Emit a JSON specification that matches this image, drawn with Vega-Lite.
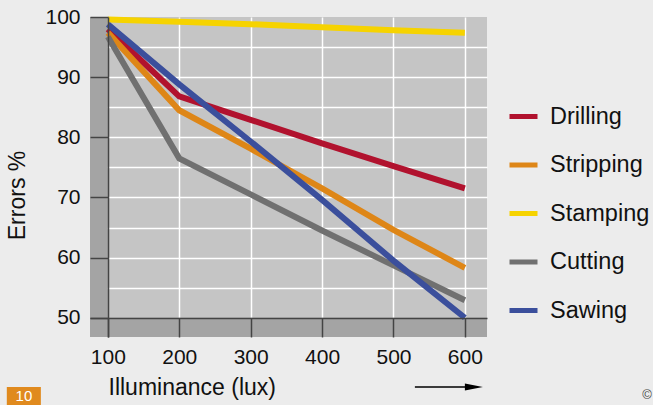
{
  "$schema": "https://vega.github.io/schema/vega-lite/v6.json",
  "autosize": {"type": "none"},
  "width": 397,
  "height": 320,
  "padding": {"left": 90, "top": 17, "right": 166, "bottom": 68},
  "background": "#ececec",
  "config": {"view": {"stroke": null, "fill": "#c5c5c5"}, "font": "Liberation Sans"},
  "data": {"values": [
    {"task": "Drilling", "lux": 100, "err": 98.0},
    {"task": "Drilling", "lux": 200, "err": 86.8},
    {"task": "Drilling", "lux": 300, "err": 82.9},
    {"task": "Drilling", "lux": 400, "err": 79.0},
    {"task": "Drilling", "lux": 500, "err": 75.2},
    {"task": "Drilling", "lux": 600, "err": 71.5},
    {"task": "Stripping", "lux": 100, "err": 97.4},
    {"task": "Stripping", "lux": 200, "err": 84.5},
    {"task": "Stripping", "lux": 300, "err": 78.1},
    {"task": "Stripping", "lux": 400, "err": 71.5},
    {"task": "Stripping", "lux": 500, "err": 64.6},
    {"task": "Stripping", "lux": 600, "err": 58.3},
    {"task": "Stamping", "lux": 100, "err": 99.6},
    {"task": "Stamping", "lux": 200, "err": 99.2},
    {"task": "Stamping", "lux": 300, "err": 98.8},
    {"task": "Stamping", "lux": 400, "err": 98.3},
    {"task": "Stamping", "lux": 500, "err": 97.8},
    {"task": "Stamping", "lux": 600, "err": 97.4},
    {"task": "Cutting", "lux": 100, "err": 96.7},
    {"task": "Cutting", "lux": 200, "err": 76.5},
    {"task": "Cutting", "lux": 300, "err": 70.5},
    {"task": "Cutting", "lux": 400, "err": 64.5},
    {"task": "Cutting", "lux": 500, "err": 58.7},
    {"task": "Cutting", "lux": 600, "err": 52.9},
    {"task": "Sawing", "lux": 100, "err": 98.8},
    {"task": "Sawing", "lux": 200, "err": 88.8},
    {"task": "Sawing", "lux": 300, "err": 79.3},
    {"task": "Sawing", "lux": 400, "err": 69.6},
    {"task": "Sawing", "lux": 500, "err": 59.5},
    {"task": "Sawing", "lux": 600, "err": 50.0}
  ]},
  "layer": [
    {
      "data": {"values": [{}]},
      "mark": {"type": "rect", "color": "#a4a4a4"},
      "encoding": {
        "x": {"datum": 75, "type": "quantitative",
              "scale": {"domain": [75, 631], "nice": false, "zero": false},
              "axis": {"orient": "bottom", "grid": true, "gridColor": "#ffffff", "gridWidth": 1.5,
                       "values": [200, 300, 400, 500, 600], "ticks": false, "labels": false,
                       "domain": false, "title": null, "zindex": 0}},
        "x2": {"datum": 100},
        "y": {"datum": 46.8, "type": "quantitative",
              "scale": {"domain": [46.8, 100], "nice": false, "zero": false},
              "axis": {"orient": "left", "grid": true, "gridColor": "#ffffff", "gridWidth": 1.5,
                       "values": [55, 60, 65, 70, 75, 80, 85, 90, 95], "ticks": false, "labels": false,
                       "domain": false, "title": null, "zindex": 0}},
        "y2": {"datum": 100}
      }
    },
    {
      "data": {"values": [{}]},
      "mark": {"type": "rect", "color": "#a4a4a4"},
      "encoding": {
        "x": {"datum": 75, "type": "quantitative", "axis": null},
        "x2": {"datum": 631},
        "y": {"datum": 46.8, "type": "quantitative", "axis": null},
        "y2": {"datum": 50}
      }
    },
    {
      "mark": {"type": "line", "strokeWidth": 6, "strokeCap": "butt", "strokeJoin": "miter"},
      "encoding": {
        "x": {"field": "lux", "type": "quantitative",
              "axis": {"orient": "bottom", "offset": -19, "values": [100, 200, 300, 400, 500, 600],
                       "grid": false, "tickSize": 19, "tickColor": "#444444", "tickWidth": 1.5,
                       "domainColor": "#444444", "domainWidth": 1.5, "labelFontSize": 21,
                       "labelColor": "#111111", "labelPadding": 9, "labelFlush": false,
                       "title": "Illuminance (lux)", "titleFontSize": 23, "titleFontWeight": "normal",
                       "titleColor": "#111111", "titleX": 18, "titleY": 76, "titleAlign": "left",
                       "titleBaseline": "alphabetic", "zindex": 1}},
        "y": {"field": "err", "type": "quantitative",
              "axis": {"orient": "left", "offset": -18, "values": [50, 60, 70, 80, 90, 100],
                       "grid": false, "tickSize": 18, "tickColor": "#444444", "tickWidth": 1.5,
                       "domainColor": "#444444", "domainWidth": 1.5, "labelFontSize": 21,
                       "labelColor": "#111111", "labelPadding": 10, "labelFlush": false,
                       "title": "Errors %", "titleFontSize": 23, "titleFontWeight": "normal",
                       "titleColor": "#111111", "titleX": -84, "titleY": 178, "titleAngle": -90,
                       "titleAlign": "center", "titleBaseline": "alphabetic", "zindex": 1}},
        "color": {"field": "task", "type": "nominal",
                  "scale": {"domain": ["Drilling", "Stripping", "Stamping", "Cutting", "Sawing"],
                            "range": ["#b1122e", "#de8617", "#f6d300", "#707070", "#3b4f9c"]},
                  "legend": {"title": null, "orient": "none", "legendX": 417, "legendY": 83,
                             "symbolType": "stroke", "symbolSize": 784, "symbolStrokeWidth": 5,
                             "labelFontSize": 23.5, "labelOffset": 10, "rowPadding": 20.5,
                             "labelColor": "#111111", "padding": 0}}
      }
    },
    {
      "data": {"values": [{}]},
      "mark": {"type": "rule", "color": "#000000", "strokeWidth": 1.5},
      "encoding": {
        "x": {"datum": 530, "type": "quantitative", "axis": null},
        "x2": {"datum": 603},
        "y": {"datum": 38.5, "type": "quantitative", "axis": null}
      }
    },
    {
      "data": {"values": [{}]},
      "mark": {"type": "point", "shape": "M-1,-0.39L1,0L-1,0.39Z", "size": 324, "filled": true, "color": "#000000", "opacity": 1},
      "encoding": {
        "x": {"datum": 612.6, "type": "quantitative", "axis": null},
        "y": {"datum": 38.5, "type": "quantitative", "axis": null}
      }
    },
    {
      "data": {"values": [{}]},
      "mark": {"type": "rect", "color": "#e08a1e"},
      "encoding": {
        "x": {"datum": -41.5, "type": "quantitative", "axis": null},
        "x2": {"datum": 6.2},
        "y": {"datum": 38.5, "type": "quantitative", "axis": null},
        "y2": {"datum": 34}
      }
    },
    {
      "data": {"values": [{}]},
      "mark": {"type": "text", "text": "10", "color": "#ffffff", "fontSize": 15, "align": "center", "baseline": "top"},
      "encoding": {
        "x": {"datum": -17.6, "type": "quantitative", "axis": null},
        "y": {"datum": 38.1, "type": "quantitative", "axis": null}
      }
    },
    {
      "data": {"values": [{}]},
      "mark": {"type": "text", "text": "©", "color": "#444444", "fontSize": 13, "align": "center", "baseline": "middle"},
      "encoding": {
        "x": {"datum": 855, "type": "quantitative", "axis": null},
        "y": {"datum": 37.2, "type": "quantitative", "axis": null}
      }
    }
  ],
  "resolve": {"axis": {"x": "independent", "y": "independent"}}
}
